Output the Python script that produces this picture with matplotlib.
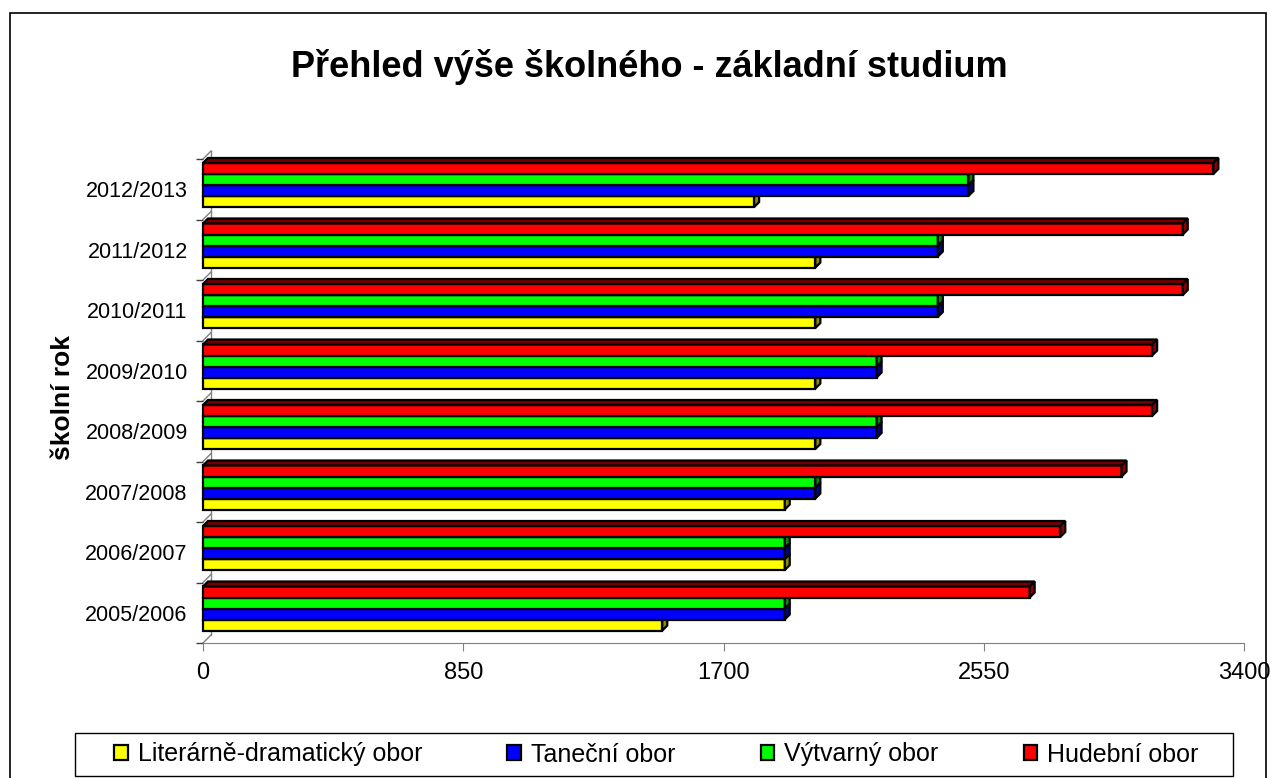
import numpy as np
import matplotlib
matplotlib.use('Agg')
import matplotlib.pyplot as plt
from matplotlib.patches import Rectangle, Polygon, Patch

plt.rcParams['font.family'] = ['Liberation Sans', 'DejaVu Sans']

# data (CZK)
years = ['2005/2006', '2006/2007', '2007/2008', '2008/2009',
         '2009/2010', '2010/2011', '2011/2012', '2012/2013']
literarne = [1500, 1900, 1900, 2000, 2000, 2000, 2000, 1800]
tanecni = [1900, 1900, 2000, 2200, 2200, 2400, 2400, 2500]
vytvarny = [1900, 1900, 2000, 2200, 2200, 2400, 2400, 2500]
hudebni = [2700, 2800, 3000, 3100, 3100, 3200, 3200, 3300]

series_names = ['Literárně-dramatický obor', 'Taneční obor', 'Výtvarný obor', 'Hudební obor']
series_values = [literarne, tanecni, vytvarny, hudebni]
colors = ['#FFFF00', '#0000FF', '#00FF00', '#FF0000']
xticks = [0, 850, 1700, 2550, 3400]

W, H = 1276, 778
fig = plt.figure(figsize=(W / 100, H / 100), dpi=100)
ax_l, ax_r, ax_t, ax_b = 203, 1244, 159, 643
ax = fig.add_axes([ax_l / W, 1 - ax_b / H, (ax_r - ax_l) / W, (ax_b - ax_t) / H])

xmax = xticks[-1]
n = len(years)
ax.set_xlim(0, xmax)
ax.set_ylim(-0.5, n - 0.5)

# pixel -> data unit conversions, for the fake 3D depth
px_x = xmax / (ax_r - ax_l)
px_y = n / (ax_b - ax_t)
bar_dx, bar_dy = 5 * px_x, 5 * px_y
wall_dx, wall_dy = 8 * px_x, 8 * px_y

bar_h = 0.182
group_shift = 0.07
lw = 1.6


def darker(c, f=0.5):
    rgb = np.array(matplotlib.colors.to_rgb(c))
    return tuple(rgb * f)


# back wall of the 3D plot
ax.plot([wall_dx, wall_dx], [-0.5 + wall_dy, n - 0.5 + wall_dy], color='#808080', lw=1, zorder=1, clip_on=False)
for b in np.arange(-0.5, n, 1.0):
    ax.plot([0, wall_dx], [b, b + wall_dy], color='#808080', lw=1, zorder=1, clip_on=False)

y_base = np.arange(n) + group_shift - 2 * bar_h
for j, (vals, c) in enumerate(zip(series_values, colors)):
    y0 = y_base + j * bar_h
    z = 3 + j
    ax.barh(y0, vals, height=bar_h, align='edge', color=c, edgecolor='black', lw=lw, zorder=z, clip_on=False)
    for yy, v in zip(y0, vals):
        top = Polygon([(0, yy + bar_h), (v, yy + bar_h), (v + bar_dx, yy + bar_h + bar_dy), (bar_dx, yy + bar_h + bar_dy)],
                      closed=True, facecolor=darker(c, 0.45), edgecolor='black', lw=lw, zorder=z, clip_on=False)
        side = Polygon([(v, yy), (v + bar_dx, yy + bar_dy), (v + bar_dx, yy + bar_h + bar_dy), (v, yy + bar_h)],
                       closed=True, facecolor=darker(c, 0.55), edgecolor='black', lw=lw, zorder=z, clip_on=False)
        ax.add_patch(top)
        ax.add_patch(side)

# axes styling
for s in ['top', 'right', 'left']:
    ax.spines[s].set_visible(False)
ax.spines['bottom'].set_color('#808080')
ax.set_xticks(xticks)
ax.tick_params(axis='x', direction='out', length=6, color='#808080', labelsize=17, pad=8)
ax.set_yticks(np.arange(n))
ax.set_yticklabels(years)
ax.tick_params(axis='y', which='major', length=0, labelsize=15.5, pad=11)
ax.set_yticks(np.arange(-0.5, n, 1.0), minor=True)
ax.tick_params(axis='y', which='minor', direction='out', length=5, color='#404040', width=1)

fig.text(63 / W, 1 - 398 / H, 'školní rok', rotation=90, ha='center', va='center',
         fontsize=19, fontweight='bold')
fig.text(649 / W, 1 - 77 / H, 'Přehled výše školného - základní studium', ha='center', va='baseline',
         fontsize=26, fontweight='bold')

# legend with its own frame
handles = [Patch(facecolor=c, edgecolor='black', lw=lw) for c in colors]
fig.legend(handles, series_names, loc='center', bbox_to_anchor=(656.5 / W, 1 - 754.5 / H),
           ncol=4, frameon=False, fontsize=18, handlelength=0.55, handleheight=0.55,
           handletextpad=0.4, columnspacing=3.4)
fig.add_artist(Rectangle((75 / W, 1 - 776 / H), (1233 - 75) / W, 43 / H, transform=fig.transFigure,
                         fill=False, edgecolor='black', lw=1))

# outer chart border
fig.add_artist(Rectangle((10 / W, -0.05), (1266 - 10) / W, 1 - 13 / H + 0.05, transform=fig.transFigure,
                         fill=False, edgecolor='black', lw=1.2))

fig.savefig('out.png', dpi=100)
